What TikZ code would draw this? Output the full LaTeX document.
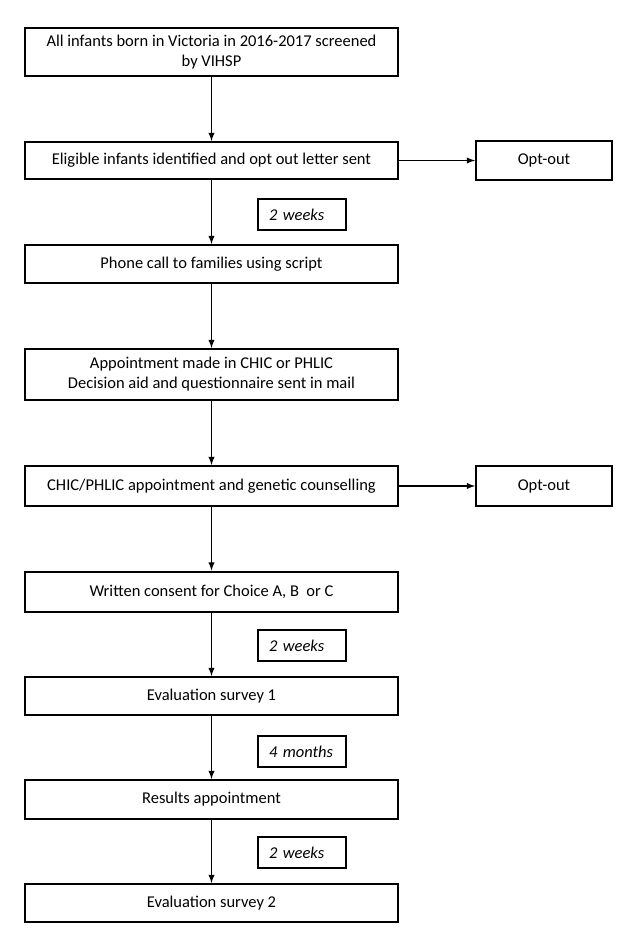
\documentclass[tikz,border=0pt]{standalone}
\usepackage{fontspec}
\setmainfont{Carlito}
\usetikzlibrary{arrows,positioning}

\begin{document}
\begin{tikzpicture}[
            x=1pt,y=-1pt,
            every node/.style={on grid,font=\fontsize{16.5}{20}\selectfont},
            box/.style={draw,line width=2pt,minimum width=373pt,align=center,inner sep=0pt},
            optout/.style={draw,line width=2pt,minimum width=136pt,minimum height=39pt,inner sep=0pt},
            delay/.style={draw,line width=2pt,text width=66pt,minimum height=31pt,align=left,inner xsep=11pt,inner ysep=0pt,font=\fontsize{16.5}{20}\selectfont\itshape},
            flow/.style={->,line width=1.8pt},
            >=latex
        ]
        \useasboundingbox (0,0) rectangle (634,944);

        % Draw main steps %
        \node[box,minimum height=48pt] (born) at (211.5,52) {All infants born in Victoria in 2016-2017 screened\\by VIHSP};
        \node[box,minimum height=37pt,below=108.5pt of born] (eligible) {Eligible infants identified and opt out letter sent};
        \node[box,minimum height=38pt,below=103.5pt of eligible] (phone) {Phone call to families using script};
        \node[box,minimum height=51pt,below=110.5pt of phone] (appoint) {Appointment made in CHIC or PHLIC\\Decision aid and questionnaire sent in mail};
        \node[box,minimum height=40pt,below=111.5pt of appoint] (counsel) {CHIC/PHLIC appointment and genetic counselling};
        \node[box,minimum height=40pt,below=105.5pt of counsel] (consent) {Written consent for Choice A, B\ \ or C};
        \node[box,minimum height=38pt,below=104.5pt of consent] (survey1) {Evaluation survey 1};
        \node[box,minimum height=39pt,below=103.5pt of survey1] (results) {Results appointment};
        \node[box,minimum height=38pt,below=103.5pt of results] (survey2) {Evaluation survey 2};

        % Draw opt-out boxes %
        \node[optout,right=332.5pt of eligible] (optout1) {Opt-out};
        \node[optout,minimum height=40pt,right=332.5pt of counsel] (optout2) {Opt-out};

        % Draw delays %
        \node[delay,below right=54pt and 90.5pt of eligible] (wait1) {2 weeks};
        \node[delay,below right=54pt and 90.5pt of consent] (wait2) {2 weeks};
        \node[delay,below right=55.5pt and 90.5pt of survey1] (wait3) {4 months};
        \node[delay,below right=53pt and 90.5pt of results] (wait4) {2 weeks};

        % Draw arrows %
        \draw[flow] (born) -- (eligible);
        \draw[flow] (eligible) -- (phone);
        \draw[flow] (phone) -- (appoint);
        \draw[flow] (appoint) -- (counsel);
        \draw[flow] (counsel) -- (consent);
        \draw[flow] (consent) -- (survey1);
        \draw[flow] (survey1) -- (results);
        \draw[flow] (results) -- (survey2);
        \draw[flow] (eligible) -- (optout1);
        \draw[flow] (counsel) -- (optout2);
\end{tikzpicture}
\end{document}
